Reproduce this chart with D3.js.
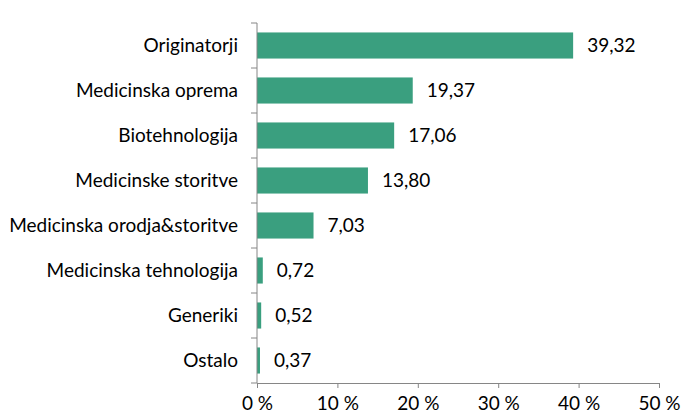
<!DOCTYPE html>
<html>
<head>
<meta charset="utf-8">
<script src="https://cdn.jsdelivr.net/npm/d3@7/dist/d3.min.js"></script>
<style>
  html, body { margin: 0; padding: 0; background: #fff; }
  svg text { font-family: Lato, "Open Sans", sans-serif; fill: #000; }
</style>
</head>
<body>
<svg id="chart" width="681" height="415"></svg>
<script>
// Shares by sector (%)
const categories = [
  "Originatorji",
  "Medicinska oprema",
  "Biotehnologija",
  "Medicinske storitve",
  "Medicinska orodja&storitve",
  "Medicinska tehnologija",
  "Generiki",
  "Ostalo"
];
const values = [39.32, 19.37, 17.06, 13.80, 7.03, 0.72, 0.52, 0.37];
const xTicks = [0, 10, 20, 30, 40, 50];

const svg = d3.select("#chart");
const margin = { left: 257, right: 22, top: 23, bottom: 32 };
const W = 681, H = 415;
const fs = 19;

const x = d3.scaleLinear().domain([0, 50]).range([margin.left, W - margin.right]);
const y = d3.scaleBand().domain(categories).range([margin.top, H - margin.bottom])
  .paddingInner(0.42).paddingOuter(0.21);

const axisColor = "#868686";
const fmt = d => d.toFixed(2).replace(".", ",");

// bars
svg.append("g").selectAll("rect").data(values).join("rect")
  .attr("x", x(0))
  .attr("y", (d, i) => y(categories[i]))
  .attr("width", d => x(d) - x(0))
  .attr("height", y.bandwidth())
  .attr("fill", "#3A9F7F");

// value labels
svg.append("g").selectAll("text").data(values).join("text")
  .attr("x", d => x(d) + 14)
  .attr("y", (d, i) => y(categories[i]) + y.bandwidth() / 2)
  .attr("dy", "0.35em")
  .attr("font-size", fs)
  .text(fmt);

// bottom axis
const xAxis = svg.append("g")
  .attr("transform", `translate(0,${H - margin.bottom})`)
  .call(d3.axisBottom(x).tickValues(xTicks).tickSize(5).tickSizeOuter(0)
    .tickFormat(d => d + " %"));
xAxis.select(".domain").attr("stroke", axisColor);
xAxis.selectAll(".tick line").attr("stroke", axisColor);
xAxis.selectAll(".tick text").attr("font-size", fs).attr("dy", null).attr("y", 27);

// left axis with ticks on category boundaries
const yAxis = svg.append("g").attr("transform", `translate(${margin.left},0)`);
yAxis.append("line")
  .attr("x1", 0).attr("x2", 0)
  .attr("y1", margin.top).attr("y2", H - margin.bottom)
  .attr("stroke", axisColor);
const step = y.step();
const bounds = d3.range(categories.length + 1).map(i => margin.top + i * step);
yAxis.selectAll("line.b").data(bounds).join("line").attr("class", "b")
  .attr("x1", -6).attr("x2", 0)
  .attr("y1", d => d).attr("y2", d => d)
  .attr("stroke", axisColor);
yAxis.selectAll("text").data(categories).join("text")
  .attr("x", -19)
  .attr("y", d => y(d) + y.bandwidth() / 2)
  .attr("dy", "0.35em")
  .attr("text-anchor", "end")
  .attr("font-size", fs)
  .text(d => d);
</script>
</body>
</html>
